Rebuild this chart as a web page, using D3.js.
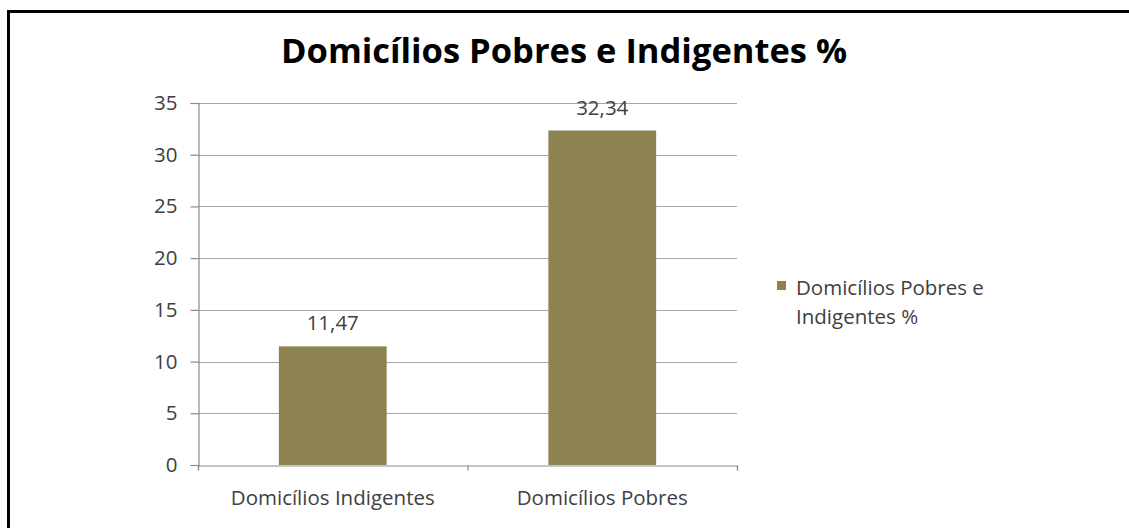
<!DOCTYPE html>
<html>
<head>
<meta charset="utf-8">
<script src="https://cdn.jsdelivr.net/npm/d3@7"></script>
<style>
  html, body { margin: 0; padding: 0; background: #fff; }
  svg { display: block; }
</style>
</head>
<body>
<svg id="chart" width="1129" height="528"></svg>
<script>
// Chart data
const categories = ["Domicílios Indigentes", "Domicílios Pobres"];
const values = [11.47, 32.34];
const valueLabels = ["11,47", "32,34"];
const yTicks = [0, 5, 10, 15, 20, 25, 30, 35];
const seriesName = ["Domicílios Pobres e", "Indigentes %"];
const titleText = "Domicílios Pobres e Indigentes %";

const FONT = "'Open Sans', sans-serif";
const LABEL_SIZE = "20.5px";
const barColor = "#8c8252";
const textColor = "#404040";

const svg = d3.select("#chart");

// outer frame (cropped on right and bottom)
svg.append("path")
  .attr("d", "M8.5,1000 L8.5,11.5 L1200,11.5")
  .attr("fill", "none")
  .attr("stroke", "#000")
  .attr("stroke-width", 3);

const plot = { left: 198, right: 737, top: 103, bottom: 465 };

const x = d3.scaleBand()
  .domain(categories)
  .range([plot.left, plot.right])
  .paddingInner(0.6)
  .paddingOuter(0.3);

const xBoundary = d3.scaleLinear()
  .domain([0, categories.length])
  .range([plot.left, plot.right]);

const y = d3.scaleLinear()
  .domain([0, 35])
  .range([plot.bottom, plot.top]);

// gridlines
svg.append("g")
  .selectAll("line")
  .data(yTicks.filter(d => d > 0))
  .join("line")
  .attr("x1", plot.left)
  .attr("x2", plot.right)
  .attr("y1", d => Math.round(y(d)) + 0.5)
  .attr("y2", d => Math.round(y(d)) + 0.5)
  .attr("stroke", "#a6a6a6")
  .attr("stroke-width", 1.2);

// y axis
const yAxis = svg.append("g")
  .attr("transform", `translate(${plot.left + 0.5},0)`)
  .call(d3.axisLeft(y).tickValues(yTicks).tickSize(8).tickPadding(13).tickFormat(d3.format("d")));
yAxis.select(".domain").attr("stroke", "#8c8c8c").attr("stroke-width", 1.2);
yAxis.selectAll(".tick line").attr("stroke", "#8c8c8c").attr("stroke-width", 1.2);
yAxis.selectAll(".tick text")
  .attr("fill", textColor)
  .style("font-family", FONT)
  .style("font-size", LABEL_SIZE);

// bars
svg.append("g")
  .selectAll("rect")
  .data(values)
  .join("rect")
  .attr("x", (d, i) => x(categories[i]))
  .attr("width", x.bandwidth())
  .attr("y", d => y(d))
  .attr("height", d => y(0) - y(d))
  .attr("fill", barColor);

// x axis line with boundary ticks
const xAxisG = svg.append("g")
  .attr("transform", `translate(0,${Math.round(plot.bottom) + 0.5})`)
  .call(d3.axisBottom(xBoundary).tickValues(d3.range(categories.length + 1)).tickSize(5).tickFormat(""));
xAxisG.select(".domain").attr("stroke", "#8c8c8c").attr("stroke-width", 1.2);
xAxisG.selectAll(".tick line").attr("stroke", "#8c8c8c").attr("stroke-width", 1.2);

// category labels
svg.append("g")
  .selectAll("text")
  .data(categories)
  .join("text")
  .attr("x", d => x(d) + x.bandwidth() / 2)
  .attr("y", 505)
  .attr("text-anchor", "middle")
  .attr("fill", textColor)
  .style("font-family", FONT)
  .style("font-size", LABEL_SIZE)
  .text(d => d);

// value labels
svg.append("g")
  .selectAll("text")
  .data(values)
  .join("text")
  .attr("x", (d, i) => x(categories[i]) + x.bandwidth() / 2)
  .attr("y", d => y(d) - 16)
  .attr("text-anchor", "middle")
  .attr("fill", textColor)
  .style("font-family", FONT)
  .style("font-size", LABEL_SIZE)
  .text((d, i) => valueLabels[i]);

// title
svg.append("text")
  .attr("x", 564)
  .attr("y", 63)
  .attr("text-anchor", "middle")
  .attr("fill", "#000")
  .style("font-family", FONT)
  .style("font-weight", "bold")
  .style("font-size", "34.5px")
  .text(titleText);

// legend
const legend = svg.append("g");
legend.append("rect")
  .attr("x", 777).attr("y", 281)
  .attr("width", 9).attr("height", 9)
  .attr("fill", barColor);
legend.selectAll("text")
  .data(seriesName)
  .join("text")
  .attr("x", 796)
  .attr("y", (d, i) => 295 + i * 29)
  .attr("fill", textColor)
  .style("font-family", FONT)
  .style("font-size", LABEL_SIZE)
  .text(d => d);
</script>
</body>
</html>
